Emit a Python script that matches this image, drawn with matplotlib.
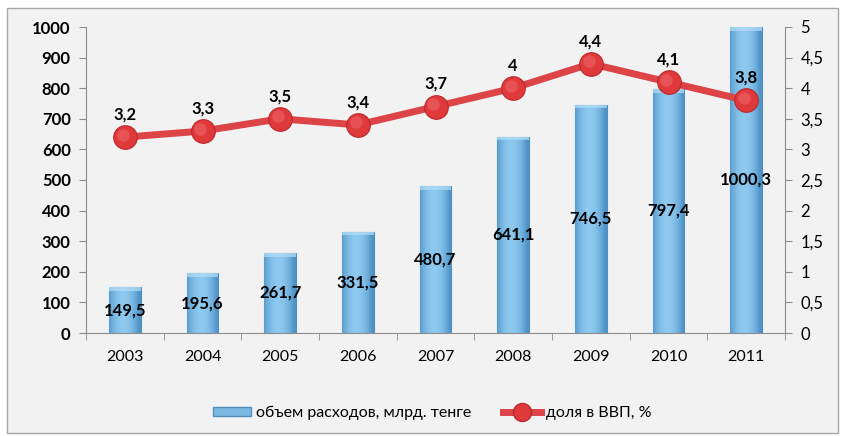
import matplotlib
matplotlib.use("Agg")
import matplotlib.pyplot as plt
import numpy as np
from matplotlib.patches import Rectangle
from matplotlib.lines import Line2D
from matplotlib.colors import LinearSegmentedColormap

years = ["2003", "2004", "2005", "2006", "2007", "2008", "2009", "2010", "2011"]
spend = [149.5, 195.6, 261.7, 331.5, 480.7, 641.1, 746.5, 797.4, 1000.3]
gdp_share = [3.2, 3.3, 3.5, 3.4, 3.7, 4.0, 4.4, 4.1, 3.8]
spend_labels = ["149,5", "195,6", "261,7", "331,5", "480,7", "641,1", "746,5", "797,4", "1000,3"]
share_labels = ["3,2", "3,3", "3,5", "3,4", "3,7", "4", "4,4", "4,1", "3,8"]
left_ticks = [0, 100, 200, 300, 400, 500, 600, 700, 800, 900, 1000]
right_ticks = [0, 0.5, 1, 1.5, 2, 2.5, 3, 3.5, 4, 4.5, 5]
right_tick_labels = ["0", "0,5", "1", "1,5", "2", "2,5", "3", "3,5", "4", "4,5", "5"]
legend_bar = "объем расходов, млрд. тенге"
legend_line = "доля в ВВП, %"

plt.rcParams['font.family'] = ['Lato', 'DejaVu Sans']
BG = '#f2f2f2'
AX = '#8c8c8c'

fig = plt.figure(figsize=(8.43, 4.36), dpi=100, facecolor='white')
fig.patches.append(Rectangle((7/843, 3/436), 831/843, 425/436, transform=fig.transFigure,
                             facecolor=BG, edgecolor='#a6a6a6', lw=1.0, zorder=-10))

ax = fig.add_axes([86/843, 103/436, 699/843, 306/436])
ax.set_facecolor('none')
x = np.arange(len(years))
bw = 0.41
bars = ax.bar(x, spend, width=bw, color='#7cb9e3', edgecolor='#4f8fbf', linewidth=0.8, zorder=2)

grad = np.linspace(0, 1, 64)
prof = 1 - (2 * np.abs(grad - 0.45)) ** 2
cmap = LinearSegmentedColormap.from_list('b', ['#4e92c6', '#8dc8ef'])
for b in bars:
    x0, w, h = b.get_x(), b.get_width(), b.get_height()
    im = ax.imshow(prof[None, :], cmap=cmap, extent=[x0, x0 + w, 0, h], aspect='auto',
                   vmin=0, vmax=1, zorder=2.1, interpolation='bilinear')
    im.set_clip_path(b)
    ax.add_patch(Rectangle((x0, h - 12), w, 12, facecolor='#b5def7', edgecolor='none', alpha=0.7, zorder=2.2))

for xi, v, lab in zip(x, spend, spend_labels):
    ax.text(xi, v / 2, lab, ha='center', va='center', fontsize=12, fontweight='bold', color='black', zorder=5)

ax.set_xlim(-0.5, len(years) - 0.5)
ax.set_ylim(0, 1000)
ax.set_yticks(left_ticks)
ax.set_yticklabels([str(t) for t in left_ticks], fontsize=12, fontweight='bold')
ax.set_xticks(x)
ax.set_xticklabels(years, fontsize=11.5)
ax.tick_params(axis='x', length=0, pad=12)
ax.set_xticks(np.arange(-0.5, len(years), 1), minor=True)
ax.tick_params(axis='x', which='minor', length=5, color=AX, direction='out')
ax.tick_params(axis='y', length=5, color=AX, pad=6)
for s in ['top', 'right']:
    ax.spines[s].set_visible(False)
ax.spines['left'].set_color(AX)
ax.spines['bottom'].set_color(AX)

ax2 = ax.twinx()
ax2.set_ylim(0, 5)
ax2.set_yticks(right_ticks)
ax2.set_yticklabels(right_tick_labels, fontsize=12)
ax2.tick_params(axis='y', length=5, color=AX, pad=6)
for s in ['top', 'left', 'bottom']:
    ax2.spines[s].set_visible(False)
ax2.spines['right'].set_color(AX)
ax2.plot(x, gdp_share, color='#dc4447', lw=5, solid_capstyle='round', zorder=3)
ax2.plot(x, gdp_share, 'o', ms=17, color='#e0393c', mec='#b8292c', mew=0.8, zorder=4)
ax2.plot(np.array(x) - 0.03, np.array(gdp_share) + 0.04, 'o', ms=9, color='#ec6466', mec='none', alpha=0.6, zorder=4.1)
for xi, v, lab in zip(x, gdp_share, share_labels):
    ax2.text(xi, v + 0.37, lab, ha='center', va='center', fontsize=12, fontweight='bold', color='black', zorder=5)

h1 = Rectangle((0, 0), 1, 1, facecolor='#7cb9e3', edgecolor='#4f8fbf')
h2 = Line2D([], [], color='#dc4447', lw=5, marker='o', ms=13, mfc='#e0393c', mec='#b8292c')
fig.legend([h1, h2], [legend_bar, legend_line], loc='center', bbox_to_anchor=(432/843, 1 - 413/436),
           ncol=2, frameon=False, fontsize=11.5, handlelength=2.4, handleheight=0.55, columnspacing=2.0,
           handletextpad=0.3)

fig.savefig('out.png', dpi=100, facecolor='white')
